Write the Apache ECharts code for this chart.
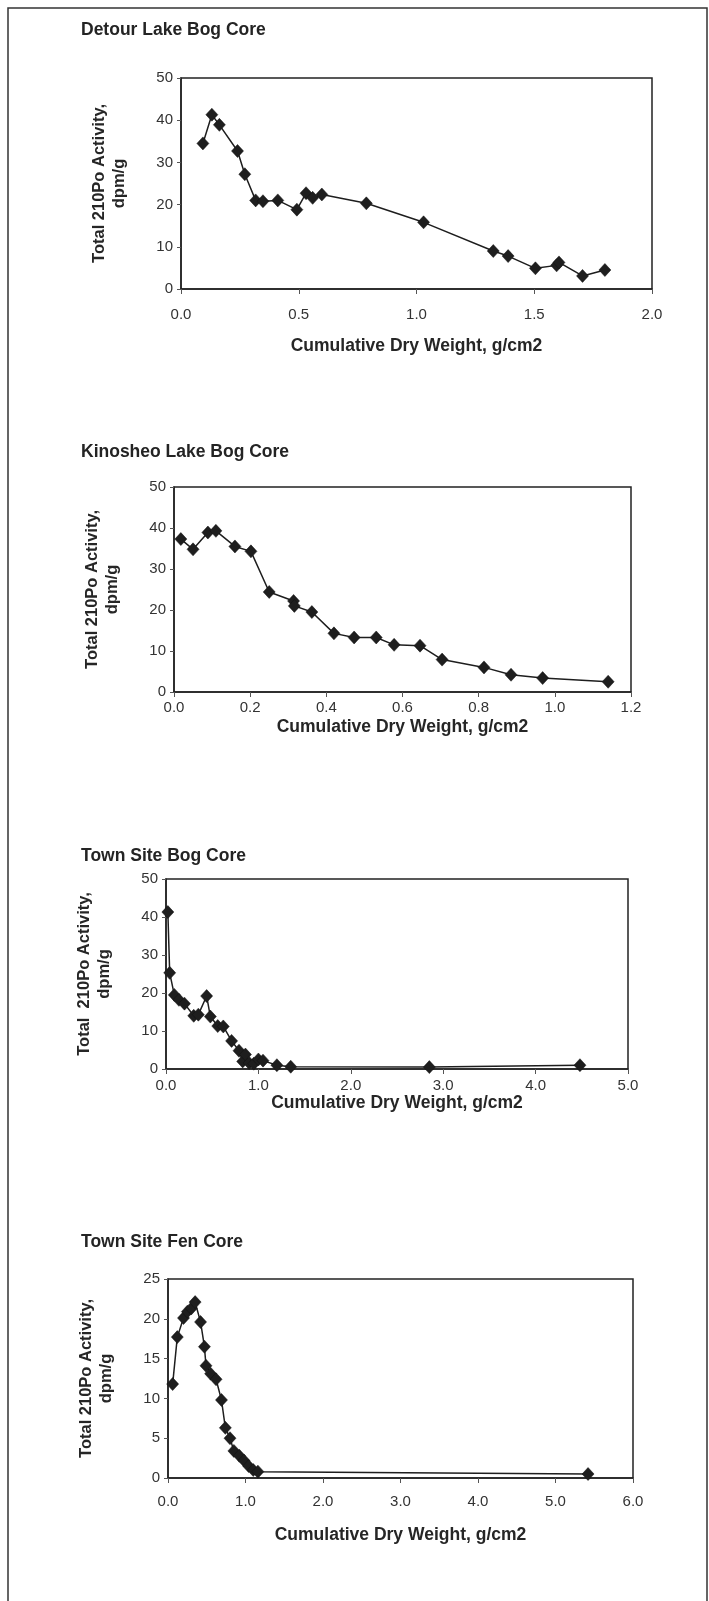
<!DOCTYPE html>
<html><head><meta charset="utf-8">
<script src="https://cdn.jsdelivr.net/npm/echarts@6/dist/echarts.min.js"></script>
<style>html,body{margin:0;padding:0;background:#fff}#c{width:709px;height:1601px}</style>
</head><body><div id="c"></div>
<script>
// ---- titles ----
const chartTitles = ['Detour Lake Bog Core', 'Kinosheo Lake Bog Core', 'Town Site Bog Core', 'Town Site Fen Core'];
const yNames = ['Total 210Po Activity,\ndpm/g', 'Total 210Po Activity,\ndpm/g', 'Total  210Po Activity,\ndpm/g', 'Total 210Po Activity,\ndpm/g'];
const xName = 'Cumulative Dry Weight, g/cm2';

// ---- Detour Lake Bog Core ----
const x1 = [0.093, 0.131, 0.163, 0.240, 0.271, 0.317, 0.348, 0.411, 0.492, 0.531, 0.559, 0.598, 0.787, 1.030, 1.326, 1.389, 1.505, 1.595, 1.605, 1.705, 1.800];
const y1 = [34.5, 41.3, 38.9, 32.7, 27.2, 21.0, 20.8, 21.0, 18.8, 22.7, 21.6, 22.4, 20.3, 15.8, 9.0, 7.8, 4.9, 5.6, 6.3, 3.1, 4.5];
const xTicks1 = [0, 0.5, 1.0, 1.5, 2.0];
const yTicks1 = [0, 10, 20, 30, 40, 50];

// ---- Kinosheo Lake Bog Core ----
const x2 = [0.018, 0.050, 0.089, 0.110, 0.160, 0.202, 0.250, 0.314, 0.316, 0.362, 0.420, 0.473, 0.531, 0.578, 0.646, 0.704, 0.814, 0.885, 0.968, 1.140];
const y2 = [37.3, 34.8, 38.9, 39.3, 35.5, 34.3, 24.4, 22.2, 21.0, 19.5, 14.3, 13.3, 13.3, 11.5, 11.3, 7.9, 6.0, 4.2, 3.4, 2.5];
const xTicks2 = [0, 0.2, 0.4, 0.6, 0.8, 1.0, 1.2];
const yTicks2 = [0, 10, 20, 30, 40, 50];

// ---- Town Site Bog Core ----
const x3 = [0.02, 0.04, 0.09, 0.14, 0.20, 0.30, 0.35, 0.44, 0.48, 0.56, 0.62, 0.71, 0.79, 0.83, 0.86, 0.90, 0.95, 1.00, 1.05, 1.20, 1.35, 2.85, 4.48];
const y3 = [41.3, 25.3, 19.5, 18.2, 17.2, 14.0, 14.3, 19.2, 13.8, 11.3, 11.2, 7.4, 4.8, 2.0, 3.8, 1.6, 1.4, 2.5, 2.2, 1.0, 0.6, 0.5, 1.0];
const xTicks3 = [0, 1, 2, 3, 4, 5];
const yTicks3 = [0, 10, 20, 30, 40, 50];

// ---- Town Site Fen Core ----
const x4 = [0.06, 0.12, 0.20, 0.25, 0.30, 0.35, 0.42, 0.47, 0.49, 0.55, 0.62, 0.69, 0.74, 0.80, 0.85, 0.92, 0.98, 1.04, 1.10, 1.16, 5.42];
const y4 = [11.8, 17.7, 20.1, 20.9, 21.3, 22.1, 19.6, 16.5, 14.1, 13.1, 12.4, 9.8, 6.3, 5.0, 3.4, 2.8, 2.2, 1.5, 1.0, 0.8, 0.5];
const xTicks4 = [0, 1, 2, 3, 4, 5, 6];
const yTicks4 = [0, 5, 10, 15, 20, 25];

const xs = [x1, x2, x3, x4], ys = [y1, y2, y3, y4];
const xTicks = [xTicks1, xTicks2, xTicks3, xTicks4];
const yTicks = [yTicks1, yTicks2, yTicks3, yTicks4];

// layout (pixels)
const layout = [
  {left: 181, top: 78,   width: 471, height: 211, titleTop: 16,   labelMargin: 18, nameGap: 48},
  {left: 174, top: 487,  width: 457, height: 205, titleTop: 438,  labelMargin: 8,  nameGap: 26},
  {left: 166, top: 879,  width: 462, height: 190, titleTop: 842,  labelMargin: 9,  nameGap: 24},
  {left: 168, top: 1279, width: 465, height: 199, titleTop: 1228, labelMargin: 16, nameGap: 48}
];

const FONT = '"Liberation Sans", Arial, Helvetica, sans-serif';
const ink = '#1e1e1e';

const option = {
  animation: false,
  backgroundColor: '#fff',
  title: chartTitles.map((t, i) => ({
    text: t, left: 76, top: layout[i].titleTop,
    textStyle: {fontFamily: FONT, fontSize: 17.5, fontWeight: 'bold', color: '#242424'}
  })),
  graphic: [{
    type: 'rect', shape: {x: 8, y: 8, width: 699, height: 1620},
    style: {fill: 'none', stroke: '#333', lineWidth: 1.5}, silent: true
  }],
  grid: layout.map(l => ({
    left: l.left, top: l.top, width: l.width, height: l.height,
    show: true, borderColor: '#222', borderWidth: 1.5, backgroundColor: 'transparent'
  })),
  xAxis: layout.map((l, i) => {
    const t = xTicks[i];
    return {
      type: 'value', gridIndex: i,
      min: t[0], max: t[t.length - 1], interval: t[1] - t[0],
      name: xName, nameLocation: 'middle', nameGap: l.nameGap,
      nameTextStyle: {fontFamily: FONT, fontSize: 17.5, fontWeight: 'bold', color: '#262626'},
      axisLine: {show: true, onZero: false, lineStyle: {color: '#222', width: 1.5}},
      axisTick: {show: true, length: 5, inside: false, lineStyle: {color: '#555'}},
      splitLine: {show: false},
      axisLabel: {margin: l.labelMargin, fontFamily: FONT, fontSize: 15, color: '#333',
        formatter: v => v.toFixed(1)}
    };
  }),
  yAxis: layout.map((l, i) => {
    const t = yTicks[i];
    return {
      type: 'value', gridIndex: i,
      min: t[0], max: t[t.length - 1], interval: t[1] - t[0],
      name: yNames[i], nameLocation: 'middle', nameGap: 52, nameRotate: 90,
      nameTextStyle: {fontFamily: FONT, fontSize: 16.5, fontWeight: 'bold', color: '#262626', lineHeight: 20, align: 'center'},
      axisLine: {show: true, lineStyle: {color: '#222', width: 1.5}},
      axisTick: {show: true, length: 4, inside: false, lineStyle: {color: '#555'}},
      splitLine: {show: false},
      axisLabel: {margin: 8, fontFamily: FONT, fontSize: 15, color: '#333'}
    };
  }),
  series: xs.map((xv, i) => ({
    type: 'line', xAxisIndex: i, yAxisIndex: i,
    data: xv.map((x, k) => [x, ys[i][k]]),
    symbol: 'diamond', symbolSize: [12, 13],
    lineStyle: {color: ink, width: 1.5},
    itemStyle: {color: ink, borderColor: '#111', borderWidth: 0.5},
    z: 3
  }))
};

const chart = echarts.init(document.getElementById('c'), null, {renderer: 'canvas', width: 709, height: 1601});
chart.setOption(option);
</script>
</body></html>
